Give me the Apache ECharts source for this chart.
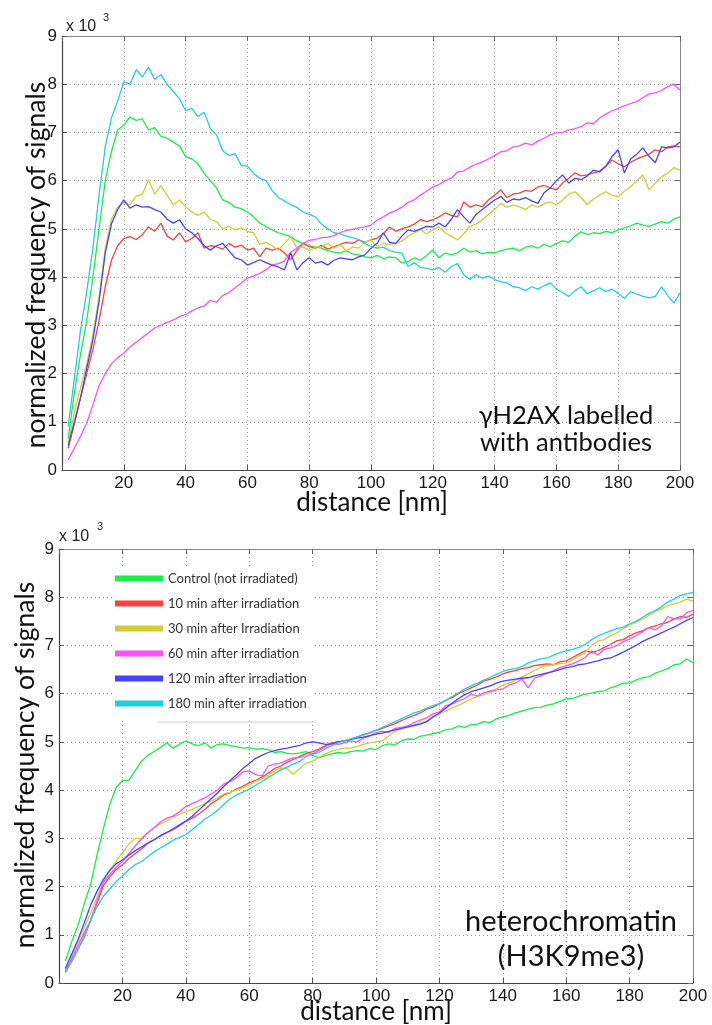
<!DOCTYPE html>
<html><head><meta charset="utf-8">
<script src="https://cdn.jsdelivr.net/npm/echarts@6/dist/echarts.min.js"></script>
<style>html,body{margin:0;padding:0;background:#fff}#c{width:712px;height:1025px}</style>
</head><body><div id="c"></div>
<script>
// distance [nm]
const distance = [2,4,6,8,10,12,14,16,18,20,22,24,26,28,30,32,34,36,38,40,42,44,46,48,50,52,54,56,58,60,62,64,66,68,70,72,74,76,78,80,82,84,86,88,90,92,94,96,98,100,102,104,106,108,110,112,114,116,118,120,122,124,126,128,130,132,134,136,138,140,142,144,146,148,150,152,154,156,158,160,162,164,166,168,170,172,174,176,178,180,182,184,186,188,190,192,194,196,198,200];
const xTicks = [0,20,40,60,80,100,120,140,160,180,200];
const yTicks = [0,1,2,3,4,5,6,7,8,9];
const seriesNames = ['Control (not irradiated)','10 min after irradiation','30 min after Irradiation','60 min after irradiation','120 min after irradiation','180 min after irradiation'];

// ---- top panel: gammaH2AX (values x 10^3) ----
const topControl = [0.65,1.6,2.4,3.1,4.0,5.0,6.0,6.6,7.05,7.15,
7.32,7.25,7.28,7.05,7.1,6.92,6.88,6.8,6.72,6.5,
6.45,6.35,6.15,6.0,5.85,5.6,5.55,5.45,5.42,5.35,
5.25,5.12,5.05,4.98,4.92,4.88,4.84,4.75,4.7,4.65,
4.62,4.6,4.55,4.52,4.5,4.55,4.48,4.46,4.42,4.4,
4.45,4.38,4.42,4.4,4.3,4.32,4.4,4.35,4.45,4.56,
4.4,4.5,4.46,4.5,4.6,4.52,4.55,4.48,4.52,4.5,
4.55,4.58,4.6,4.55,4.62,4.65,4.6,4.68,4.63,4.7,
4.75,4.72,4.85,4.94,4.88,4.92,4.9,4.95,4.92,4.98,
5.02,5.06,5.12,5.08,5.05,5.1,5.15,5.12,5.2,5.25];
const top10 = [0.45,0.95,1.5,2.0,2.5,3.1,3.8,4.35,4.65,4.8,
4.84,4.78,4.88,5.04,4.95,5.12,4.85,4.77,4.92,4.73,
4.8,4.92,4.6,4.65,4.63,4.58,4.7,4.62,4.66,4.56,
4.6,4.42,4.6,4.56,4.6,4.5,4.36,4.55,4.7,4.63,
4.6,4.66,4.58,4.63,4.68,4.72,4.7,4.77,4.72,4.77,
4.81,4.9,5.04,4.95,5.0,5.04,5.1,5.19,5.15,5.19,
5.25,5.33,5.28,5.25,5.56,5.45,5.5,5.46,5.6,5.7,
5.81,5.65,5.72,5.74,5.8,5.78,5.87,5.9,5.85,5.81,
5.95,6.05,6.16,6.1,6.12,6.16,6.2,6.3,6.43,6.35,
6.29,6.38,6.45,6.5,6.55,6.64,6.6,6.7,6.72,6.7];
const top30 = [0.55,1.2,1.7,2.2,2.8,3.6,4.6,5.2,5.45,5.55,
5.5,5.68,5.72,6.02,5.72,5.9,5.7,5.5,5.6,5.46,
5.35,5.28,5.35,5.2,5.15,5.0,5.05,4.98,5.02,4.95,
4.92,4.68,4.72,4.65,4.56,4.7,4.84,4.6,4.63,4.55,
4.62,4.63,4.7,4.6,4.67,4.55,4.62,4.6,4.72,4.77,
4.63,4.7,4.68,4.7,4.75,4.85,4.92,4.98,4.9,4.98,
5.04,4.92,4.85,4.77,4.9,5.05,5.1,5.19,5.3,5.4,
5.53,5.45,5.5,5.46,5.4,5.5,5.45,5.52,5.56,5.5,
5.6,5.72,5.77,5.65,5.5,5.62,5.7,5.77,5.7,5.67,
5.78,5.87,6.0,6.12,5.81,5.95,6.08,6.15,6.27,6.22];
const top60 = [0.21,0.45,0.7,0.97,1.35,1.75,2.0,2.2,2.33,2.42,
2.55,2.65,2.75,2.84,2.95,3.0,3.06,3.11,3.18,3.22,
3.3,3.36,3.4,3.52,3.48,3.62,3.68,3.78,3.88,3.98,
4.02,4.08,4.15,4.25,4.28,4.33,4.52,4.6,4.7,4.76,
4.78,4.82,4.83,4.86,4.92,4.97,4.99,5.02,5.04,5.08,
5.18,5.25,5.33,5.38,5.45,5.55,5.6,5.7,5.78,5.87,
5.92,6.0,6.05,6.18,6.2,6.28,6.34,6.39,6.45,6.52,
6.6,6.62,6.7,6.72,6.78,6.74,6.82,6.88,6.95,6.99,
7.0,7.05,7.08,7.12,7.2,7.18,7.3,7.38,7.45,7.5,
7.55,7.6,7.64,7.72,7.8,7.82,7.87,7.95,8.0,7.88];
const top120 = [0.5,1.0,1.5,2.1,2.7,3.5,4.5,5.1,5.4,5.6,
5.43,5.5,5.45,5.46,5.4,5.35,5.2,5.12,5.19,5.0,
4.92,4.8,4.65,4.56,4.65,4.7,4.55,4.4,4.36,4.25,
4.3,4.36,4.3,4.25,4.21,4.15,4.5,4.15,4.3,4.4,
4.29,4.32,4.25,4.35,4.4,4.38,4.36,4.42,4.46,4.6,
4.7,4.92,4.72,4.7,4.85,4.98,4.95,5.0,5.05,5.04,
5.12,5.04,5.2,5.4,5.25,5.12,5.3,5.4,5.5,5.6,
5.67,5.55,5.62,5.6,5.65,5.58,5.53,5.75,5.85,6.0,
6.12,5.95,6.05,6.02,6.1,6.22,6.18,6.3,6.5,6.64,
6.16,6.45,6.55,6.68,6.5,6.37,6.7,6.68,6.7,6.8];
const top180 = [0.9,1.9,2.9,3.7,4.6,5.7,6.7,7.3,7.65,8.05,
8.0,8.3,8.15,8.35,8.1,8.2,8.0,7.85,7.7,7.45,
7.5,7.33,7.42,7.08,6.95,6.62,6.52,6.56,6.32,6.3,
6.15,6.05,6.0,5.8,5.65,5.58,5.5,5.45,5.35,5.3,
5.25,5.1,5.0,4.92,4.9,4.85,4.82,4.78,4.7,4.63,
4.6,4.62,4.55,4.52,4.5,4.22,4.3,4.2,4.18,4.15,
4.2,4.1,4.22,4.28,4.05,3.95,4.05,3.98,4.02,3.95,
3.9,3.88,3.8,3.78,3.72,3.8,3.75,3.82,3.88,3.75,
3.68,3.6,3.72,3.8,3.65,3.72,3.78,3.7,3.75,3.66,
3.56,3.7,3.65,3.6,3.57,3.6,3.8,3.62,3.46,3.67];

// ---- bottom panel: heterochromatin H3K9me3 (values x 10^3) ----
const botControl = [0.45,0.85,1.2,1.65,2.05,2.65,3.2,3.7,4.05,4.2,
4.2,4.4,4.6,4.72,4.8,4.88,4.98,4.87,4.95,5.02,
4.96,4.92,4.98,4.87,4.95,4.96,4.92,4.9,4.87,4.88,
4.85,4.86,4.84,4.78,4.8,4.76,4.75,4.77,4.8,4.72,
4.67,4.72,4.75,4.78,4.76,4.8,4.82,4.81,4.86,4.84,
4.92,4.96,4.94,5.02,5.06,5.05,5.12,5.14,5.17,5.2,
5.25,5.27,5.33,5.3,5.36,5.37,5.42,5.4,5.48,5.52,
5.55,5.6,5.64,5.68,5.71,5.72,5.76,5.79,5.84,5.89,
5.9,5.95,5.99,6.01,6.04,6.06,6.12,6.16,6.22,6.22,
6.28,6.33,6.35,6.42,6.47,6.52,6.6,6.62,6.72,6.64];
const bot10 = [0.22,0.45,0.7,0.95,1.3,1.65,2.02,2.2,2.35,2.45,
2.58,2.68,2.78,2.9,2.97,3.06,3.12,3.18,3.26,3.35,
3.42,3.5,3.6,3.72,3.8,3.9,3.95,4.02,4.08,4.15,
4.2,4.27,4.35,4.45,4.5,4.58,4.64,4.7,4.76,4.8,
4.85,4.92,4.98,5.0,5.02,5.05,5.1,5.15,5.19,5.24,
5.28,5.33,5.38,5.44,5.5,5.55,5.6,5.68,5.72,5.79,
5.86,5.92,6.0,6.06,6.12,6.18,6.26,6.3,6.35,6.41,
6.45,6.48,6.52,6.54,6.58,6.6,6.62,6.6,6.66,6.68,
6.75,6.82,6.89,6.85,6.89,6.96,7.02,7.1,7.12,7.2,
7.26,7.3,7.37,7.4,7.45,7.48,7.55,7.6,7.58,7.65];
const bot30 = [0.25,0.55,0.85,1.15,1.45,1.78,2.1,2.35,2.52,2.7,
2.88,3.0,3.0,3.12,3.22,3.3,3.36,3.44,3.5,3.55,
3.6,3.66,3.72,3.77,3.84,3.92,3.96,4.0,4.05,4.1,
4.18,4.24,4.3,4.4,4.46,4.44,4.33,4.45,4.56,4.6,
4.68,4.75,4.81,4.84,4.87,4.87,4.9,4.95,4.98,5.0,
5.02,5.12,5.22,5.27,5.3,5.35,5.4,5.43,5.5,5.58,
5.64,5.7,5.76,5.82,5.89,5.94,5.98,6.02,6.1,6.18,
6.22,6.28,6.35,6.41,6.48,6.55,6.58,6.6,6.62,6.64,
6.7,6.78,6.85,7.0,7.09,7.12,7.2,7.26,7.35,7.42,
7.48,7.55,7.62,7.7,7.76,7.82,7.86,7.9,7.96,7.92];
const bot60 = [0.25,0.5,0.78,1.05,1.3,1.7,2.08,2.25,2.4,2.52,
2.68,2.84,2.98,3.12,3.22,3.34,3.42,3.46,3.55,3.66,
3.72,3.78,3.84,3.92,4.0,4.13,4.18,4.26,4.38,4.4,
4.32,4.29,4.5,4.54,4.56,4.62,4.67,4.68,4.75,4.75,
4.82,4.9,4.96,4.95,4.98,5.02,5.0,5.08,5.12,5.19,
5.22,5.2,5.28,5.3,5.33,5.4,5.45,5.5,5.58,5.62,
5.75,5.79,5.85,5.9,5.99,5.95,6.02,6.05,6.08,6.1,
6.18,6.22,6.3,6.12,6.32,6.37,6.42,6.48,6.54,6.58,
6.62,6.68,6.75,6.89,6.8,6.92,6.95,7.0,7.08,7.13,
7.2,7.28,7.37,7.32,7.4,7.6,7.55,7.55,7.68,7.72];
const bot120 = [0.3,0.6,0.9,1.25,1.62,1.9,2.15,2.33,2.47,2.55,
2.65,2.74,2.82,2.9,2.97,3.05,3.12,3.2,3.28,3.36,
3.46,3.58,3.7,3.82,3.94,4.08,4.2,4.32,4.45,4.55,
4.66,4.72,4.78,4.82,4.85,4.87,4.9,4.93,4.98,5.0,
4.98,4.95,4.96,5.0,5.02,5.05,5.08,5.1,5.13,5.16,
5.18,5.22,5.25,5.28,5.31,5.34,5.37,5.42,5.52,5.6,
5.7,5.8,5.9,5.98,6.04,6.08,6.12,6.16,6.22,6.26,
6.28,6.3,6.32,6.33,6.37,6.4,6.43,6.46,6.5,6.54,
6.56,6.6,6.62,6.65,6.68,6.72,6.74,6.8,6.86,6.93,
7.0,7.08,7.14,7.2,7.26,7.32,7.38,7.45,7.52,7.58];
const bot180 = [0.22,0.45,0.7,0.98,1.3,1.58,1.8,1.95,2.1,2.22,
2.35,2.45,2.52,2.62,2.72,2.8,2.88,2.96,3.02,3.08,
3.18,3.28,3.4,3.48,3.58,3.7,3.82,3.9,3.96,4.02,
4.1,4.18,4.26,4.34,4.42,4.48,4.54,4.6,4.7,4.74,
4.78,4.86,4.92,4.98,5.02,5.06,5.1,5.14,5.18,5.24,
5.3,5.36,5.42,5.48,5.54,5.6,5.64,5.7,5.75,5.8,
5.86,5.94,6.02,6.1,6.16,6.22,6.28,6.34,6.4,6.46,
6.5,6.52,6.56,6.64,6.68,6.72,6.74,6.8,6.85,6.89,
6.92,6.96,7.02,7.12,7.2,7.25,7.3,7.35,7.38,7.45,
7.5,7.58,7.66,7.72,7.8,7.9,7.96,8.04,8.07,8.1];

const colors = ['#17ee48','#ff4040','#d0ce30','#ff50ff','#4444ff','#1ed2d8'];
const topSets = [topControl, top10, top30, top60, top120, top180];
const botSets = [botControl, bot10, bot30, bot60, bot120, bot180];

const grids = [
  {left: 62, top: 36, width: 618, height: 434},
  {left: 59, top: 549, width: 634, height: 434}
];

const xAxes = [], yAxes = [];
grids.forEach((g, gi) => {
  xAxes.push({gridIndex: gi, type: 'value', min: xTicks[0], max: xTicks[xTicks.length-1], interval: 20, position: 'bottom',
    axisLine: {onZero: false, lineStyle: {color: '#444', width: 1.2}},
    axisTick: {inside: true, length: 5, lineStyle: {color: '#555'}},
    axisLabel: {color: '#1a1a1a', fontSize: 17, fontFamily: 'Liberation Sans', margin: 5, formatter: v => v === 0 ? '' : String(v)},
    splitLine: {show: true, lineStyle: {color: '#999', type: [1, 3], width: 1}}});
  xAxes.push({gridIndex: gi, type: 'value', min: 0, max: 200, interval: 20, position: 'top',
    axisLine: {onZero: false, lineStyle: {color: '#888', width: 1}},
    axisTick: {inside: true, length: 5, lineStyle: {color: '#666'}},
    axisLabel: {show: false}, splitLine: {show: false}});
  yAxes.push({gridIndex: gi, type: 'value', min: yTicks[0], max: yTicks[yTicks.length-1], interval: 1, position: 'left',
    axisLine: {onZero: false, lineStyle: {color: '#444', width: 1.2}},
    axisTick: {inside: true, length: 5, lineStyle: {color: '#555'}},
    axisLabel: {color: '#1a1a1a', fontSize: 17, fontFamily: 'Liberation Sans', margin: 5},
    splitLine: {show: true, lineStyle: {color: '#999', type: [1, 3], width: 1}}});
  yAxes.push({gridIndex: gi, type: 'value', min: 0, max: 9, interval: 1, position: 'right',
    axisLine: {onZero: false, lineStyle: {color: '#888', width: 1}},
    axisTick: {inside: true, length: 5, lineStyle: {color: '#666'}},
    axisLabel: {show: false}, splitLine: {show: false}});
});

const series = [];
topSets.forEach((arr, k) => {
  series.push({name: 'top ' + seriesNames[k], type: 'line', xAxisIndex: 0, yAxisIndex: 0,
    data: distance.map((d, i) => [d, arr[i]]), showSymbol: false, symbol: 'none',
    color: colors[k], lineStyle: {width: 1.3, color: colors[k]}, silent: true});
});
botSets.forEach((arr, k) => {
  series.push({name: seriesNames[k], type: 'line', xAxisIndex: 2, yAxisIndex: 2,
    data: distance.map((d, i) => [d, arr[i]]), showSymbol: false, symbol: 'none',
    color: colors[k], lineStyle: {width: 1.3, color: colors[k]}, silent: true});
});

const txt = (x, y, text, size, extra) => Object.assign({type: 'text', x: x, y: y, z: 100,
  style: {text: text, fontSize: size, fontFamily: 'Lato', fill: '#111', align: 'center', verticalAlign: 'middle'}}, extra || {});

const graphic = [
  {type: 'text', x: 66, y: 27, style: {text: 'x 10', fontSize: 16, fontFamily: 'Liberation Sans', fill: '#222', align: 'left', verticalAlign: 'middle'}},
  {type: 'text', x: 103, y: 18, style: {text: '3', fontSize: 11, fontFamily: 'Liberation Sans', fill: '#222', align: 'left', verticalAlign: 'middle'}},
  {type: 'text', x: 59, y: 537, style: {text: 'x 10', fontSize: 16, fontFamily: 'Liberation Sans', fill: '#222', align: 'left', verticalAlign: 'middle'}},
  {type: 'text', x: 97, y: 527, style: {text: '3', fontSize: 11, fontFamily: 'Liberation Sans', fill: '#222', align: 'left', verticalAlign: 'middle'}},
  txt(36, 265, 'normalized frequency of signals', 26.5, {rotation: Math.PI / 2}),
  txt(25, 765, 'normalized frequency of signals', 26.5, {rotation: Math.PI / 2}),
  txt(372, 503, 'distance [nm]', 26),
  txt(376, 1012, 'distance [nm]', 26),
  txt(566, 416, 'γH2AX labelled', 25.5),
  txt(566, 443, 'with antibodies', 25.5),
  txt(571, 922, 'heterochromatin', 29),
  txt(571, 957, '(H3K9me3)', 29),
  {type: 'line', z: 100, shape: {x1: 158, y1: 722, x2: 315, y2: 722}, style: {stroke: '#ccc', lineWidth: 1}}
];

const chart = echarts.init(document.getElementById('c'));
chart.setOption({
  animation: false,
  backgroundColor: '#fff',
  grid: grids,
  xAxis: xAxes,
  yAxis: yAxes,
  legend: {data: seriesNames, orient: 'vertical', left: 113, top: 567, padding: [5, 8, 10, 2],
    itemWidth: 48, itemHeight: 6, itemGap: 12, icon: 'rect', selectedMode: false,
    backgroundColor: '#fff', textStyle: {fontSize: 13, color: '#333', fontFamily: 'Lato'}},
  series: series,
  graphic: graphic
});
</script></body></html>
